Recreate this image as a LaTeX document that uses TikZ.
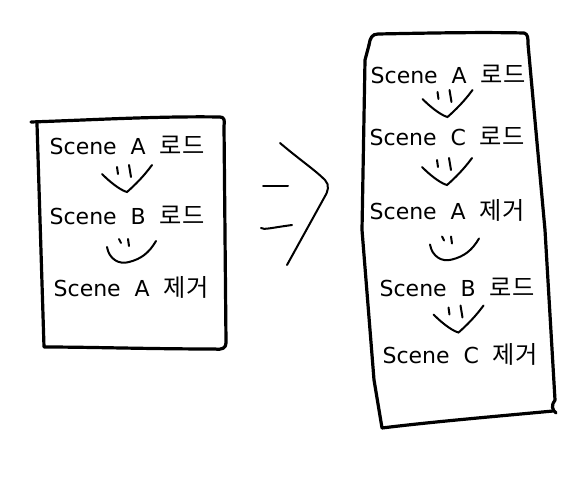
\documentclass[tikz,border=0pt]{standalone}
\usepackage{fontspec}
\setmainfont{DejaVu Sans}
\newfontfamily\kr[Scale=1.1]{Noto Sans CJK KR}
\usetikzlibrary{calc}

\newcommand\sline[2]{Scene\ \ #1\ \ {\kr #2}}

\tikzset{
  sketch/.style={line width=3.2pt,line cap=round,line join=round},
  squig/.style={line width=2pt,line cap=round},
  scenetxt/.style={font=\fontsize{22}{26}\selectfont,inner sep=0pt},
  hand/.pic={
    \draw[squig] (-25,-6) .. controls (-13,6) and (-4,11) .. (0,12) .. controls (8,5) and (17,-4) .. (25,-15);
    \draw[squig] (-10,-13) -- (-9,-6);
    \draw[squig] (2,-15) -- (4,-3);
  },
  handu/.pic={
    \draw[squig] (-22,-4) .. controls (-20,8) and (-10,14) .. (0,11) .. controls (12,8) and (20,2) .. (27,-10);
    \draw[squig] (-10,-12) -- (-8,-8);
    \draw[squig] (-1,-12) -- (0,-5);
  }
}

\begin{document}
\begin{tikzpicture}[x=1pt,y=-1pt]
  \useasboundingbox (0,0) rectangle (577,481);
  % left page
  \draw[sketch] (31,122) .. controls (90,120) and (160,116) .. (220,117)
    .. controls (224,117) and (225,120) .. (224,126)
    -- (226,343) .. controls (226,348) and (222,350) .. (215,349)
    .. controls (150,349) and (90,347) .. (44,347)
    -- (37,124);
  \node[scenetxt] (l1) at (127,145) {\sline{A}{로드}};
  \node[scenetxt] (l2) at (127,215) {\sline{B}{로드}};
  \node[scenetxt] (l3) at (131,287) {\sline{A}{제거}};
  \pic at ($(l1)!0.5!(l2)$) {hand};
  \pic at ($(l2)!0.5!(l3)$) {handu};
  % arrow between
  \coordinate (d1) at (263,186);
  \coordinate (d2) at (288,186);
  \coordinate (d3) at (261,228);
  \coordinate (d4) at (292,225);
  \draw[squig] (d1) -- (d2);
  \draw[squig] (d3) .. controls (264,230) and (270,228) .. (d4);
  \draw[squig] (280,143) .. controls (300,160) and (315,170) .. (325,180)
    .. controls (330,185) and (328,192) .. (324,198) -- (287,265);
  % right page
  \draw[sketch] (369,45) .. controls (370,38) and (372,34) .. (378,34)
    .. controls (430,33) and (480,32) .. (524,33)
    .. controls (528,34) and (528,38) .. (528,44)
    -- (545,230) -- (555,400)
    .. controls (551,405) and (552,410) .. (556,413);
  \draw[sketch] (553,411) .. controls (500,416) and (430,422) .. (382,428)
    -- (374,380) -- (362,230) -- (365,60) -- (369,45);
  \node[scenetxt] (r1) at (448,74) {\sline{A}{로드}};
  \node[scenetxt] (r2) at (447,136) {\sline{C}{로드}};
  \node[scenetxt] (r3) at (447,210) {\sline{A}{제거}};
  \node[scenetxt] (r4) at (457,287) {\sline{B}{로드}};
  \node[scenetxt] (r5) at (460,354) {\sline{C}{제거}};
  \foreach \a/\b/\p in {r1/r2/hand,r2/r3/hand,r3/r4/handu,r4/r5/hand}
    \pic at ($(\a)!0.5!(\b)$) {\p};
\end{tikzpicture}
\end{document}
